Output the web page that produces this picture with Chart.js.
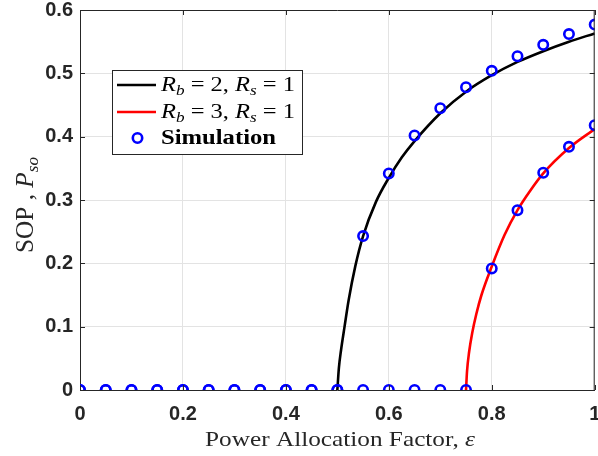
<!DOCTYPE html>
<html>
<head>
<meta charset="utf-8">
<script src="https://cdn.jsdelivr.net/npm/chart.js@4.4.1/dist/chart.umd.min.js"></script>
<style>
  html, body { margin: 0; padding: 0; background: #fff; overflow: hidden; }
  #wrap { width: 598px; height: 456px; overflow: hidden; position: relative; }
  canvas { display: block; }
</style>
</head>
<body>
<div id="wrap"><canvas id="sopChart" width="602" height="456" style="width:602px;height:456px"></canvas></div>
<script>
// simulation points (power allocation factor eps)
var eps = [0, 0.05, 0.1, 0.15, 0.2, 0.25, 0.3, 0.35, 0.4, 0.45, 0.5, 0.55, 0.6, 0.65, 0.7, 0.75, 0.8, 0.85, 0.9, 0.95, 1.0];
var simRb2 = [0, 0, 0, 0, 0, 0, 0, 0, 0, 0, 0, 0.243, 0.342, 0.402, 0.445, 0.478, 0.504, 0.527, 0.545, 0.562, 0.577];
var simRb3 = [0, 0, 0, 0, 0, 0, 0, 0, 0, 0, 0, 0, 0, 0, 0, 0, 0.192, 0.284, 0.343, 0.384, 0.418];

// analytical curves
var curveRb2Eps = [0.5, 0.503, 0.507, 0.514, 0.522, 0.535, 0.55, 0.575, 0.6, 0.625, 0.65, 0.7, 0.75, 0.8, 0.85, 0.9, 0.95, 1.0];
var curveRb2 = [0, 0.035, 0.062, 0.1, 0.142, 0.196, 0.243, 0.297, 0.335, 0.367, 0.393, 0.437, 0.471, 0.497, 0.518, 0.535, 0.55, 0.563];
var curveRb3Eps = [0.75, 0.752, 0.756, 0.762, 0.77, 0.78, 0.8, 0.825, 0.85, 0.875, 0.9, 0.95, 1.0];
var curveRb3 = [0, 0.03, 0.06, 0.09, 0.12, 0.15, 0.195, 0.245, 0.284, 0.315, 0.342, 0.382, 0.412];

var xTicks = [0, 0.2, 0.4, 0.6, 0.8, 1];
var yTicks = [0, 0.1, 0.2, 0.3, 0.4, 0.5, 0.6];

function pts(xs, ys) {
    return xs.map(function (x, i) { return { x: x, y: ys[i] }; });
}

var AXIS = '#262626';
var SERIF = '"Liberation Serif", "DejaVu Serif", serif';

// draw a run of text pieces, stretched to a target width
function drawRich(ctx, parts, x, y, targetW, sy) {
    var w = 0;
    parts.forEach(function (p) { ctx.font = p.f; w += ctx.measureText(p.t).width; });
    var sx = targetW ? targetW / w : 1;
    ctx.save();
    ctx.translate(x, y);
    ctx.scale(sx, sy || 1);
    ctx.textBaseline = 'alphabetic';
    ctx.textAlign = 'left';
    var cx = 0;
    parts.forEach(function (p) {
        ctx.font = p.f;
        ctx.fillStyle = p.c || '#000';
        ctx.fillText(p.t, cx, p.dy || 0);
        cx += ctx.measureText(p.t).width;
    });
    ctx.restore();
}

var it = function (s) { return 'italic ' + s + 'px ' + SERIF; };
var rm = function (s) { return s + 'px ' + SERIF; };

var decorations = {
    id: 'decorations',
    afterDraw: function (chart) {
        var ctx = chart.ctx, a = chart.chartArea;
        var xs = chart.scales.x, ys = chart.scales.y;
        ctx.save();
        // box and inward ticks
        ctx.strokeStyle = AXIS;
        ctx.lineWidth = 1;
        ctx.beginPath();
        ctx.moveTo(a.left, a.top + 0.5);
        ctx.lineTo(a.right, a.top + 0.5);
        ctx.moveTo(a.right - 0.5, a.top);
        ctx.lineTo(a.right - 0.5, a.bottom);
        xTicks.forEach(function (v) {
            var px = Math.round(xs.getPixelForValue(v)) + 0.5;
            ctx.moveTo(px, a.bottom); ctx.lineTo(px, a.bottom - 5);
            ctx.moveTo(px, a.top); ctx.lineTo(px, a.top + 5);
        });
        yTicks.forEach(function (v) {
            var py = Math.round(ys.getPixelForValue(v)) + 0.5;
            ctx.moveTo(a.left, py); ctx.lineTo(a.left + 5, py);
            ctx.moveTo(a.right, py); ctx.lineTo(a.right - 5, py);
        });
        ctx.stroke();

        // axis titles
        drawRich(ctx, [
            { t: 'Power Allocation Factor, ', f: rm(22), c: AXIS },
            { t: '\u03B5', f: it(22), c: AXIS }
        ], 205, 446, 270);

        ctx.save();
        ctx.translate(33, 253);
        ctx.rotate(-Math.PI / 2);
        drawRich(ctx, [
            { t: 'SOP , ', f: rm(22), c: AXIS },
            { t: 'P', f: it(22), c: AXIS },
            { t: 'so', f: it(15), dy: 4, c: AXIS }
        ], 0, 0, 96, 1.15);
        ctx.restore();

        // legend
        ctx.fillStyle = '#fff';
        ctx.fillRect(112, 70, 190, 84);
        ctx.strokeStyle = AXIS;
        ctx.lineWidth = 1;
        ctx.strokeRect(112.5, 70.5, 190, 84);

        ctx.lineWidth = 2.6;
        ctx.strokeStyle = '#000000';
        ctx.beginPath(); ctx.moveTo(117, 85); ctx.lineTo(156, 85); ctx.stroke();
        ctx.strokeStyle = '#ff0000';
        ctx.beginPath(); ctx.moveTo(117, 112); ctx.lineTo(156, 112); ctx.stroke();
        ctx.strokeStyle = '#0000ff';
        ctx.beginPath(); ctx.arc(137.5, 138, 4.7, 0, Math.PI * 2); ctx.stroke();

        [['2', 91], ['3', 117.5]].forEach(function (r) {
            drawRich(ctx, [
                { t: 'R', f: it(20) },
                { t: 'b', f: it(14), dy: 4 },
                { t: ' = ' + r[0] + ', ', f: rm(20) },
                { t: 'R', f: it(20) },
                { t: 's', f: it(14), dy: 4 },
                { t: ' = 1', f: rm(20) }
            ], 161, r[1], 134);
        });
        drawRich(ctx, [{ t: 'Simulation', f: 'bold 20px ' + SERIF }], 161, 144, 115);
        ctx.restore();
    }
};

var tickFont = { family: '"Liberation Sans", Arial, sans-serif', weight: 'bold', size: 20 };

var ctx = document.getElementById('sopChart').getContext('2d');
var sopChart = new Chart(ctx, {
    type: 'scatter',
    data: {
        datasets: [{
            label: 'Simulation',
            data: pts(eps, simRb2),
            borderColor: '#0000ff',
            backgroundColor: 'rgba(0,0,0,0)',
            pointRadius: 4.7,
            borderWidth: 2.6,
            showLine: false
        }, {
            label: 'Simulation Rb=3',
            data: pts(eps, simRb3),
            borderColor: '#0000ff',
            backgroundColor: 'rgba(0,0,0,0)',
            pointRadius: 4.7,
            borderWidth: 2.6,
            showLine: false
        }, {
            label: 'Rb = 2, Rs = 1',
            data: pts(curveRb2Eps, curveRb2),
            borderColor: '#000000',
            borderWidth: 2.6,
            pointRadius: 0,
            showLine: true,
            cubicInterpolationMode: 'monotone'
        }, {
            label: 'Rb = 3, Rs = 1',
            data: pts(curveRb3Eps, curveRb3),
            borderColor: '#ff0000',
            borderWidth: 2.6,
            pointRadius: 0,
            showLine: true,
            cubicInterpolationMode: 'monotone'
        }]
    },
    options: {
        responsive: false,
        devicePixelRatio: 1,
        animation: false,
        layout: { padding: { top: 10, left: 0, right: 2, bottom: 0 } },
        plugins: {
            legend: { display: false },
            tooltip: { enabled: false }
        },
        scales: {
            x: {
                type: 'linear',
                min: 0,
                max: 1,
                afterFit: function (s) { s.height = 66; s.paddingLeft = 0; s.paddingRight = 0; },
                afterBuildTicks: function (s) { s.ticks = xTicks.map(function (v) { return { value: v }; }); },
                ticks: {
                    font: tickFont,
                    color: AXIS,
                    padding: 12,
                    maxRotation: 0,
                    autoSkip: false,
                    callback: function (v) { return String(v); }
                },
                grid: { color: '#e3e3e3', lineWidth: 1, drawTicks: false },
                border: { display: true, color: AXIS, width: 1 }
            },
            y: {
                min: 0,
                max: 0.6,
                afterFit: function (s) { s.width = 80; s.paddingTop = 0; s.paddingBottom = 0; },
                afterBuildTicks: function (s) { s.ticks = yTicks.map(function (v) { return { value: v }; }); },
                ticks: {
                    font: tickFont,
                    color: AXIS,
                    padding: 7,
                    callback: function (v) { return String(v); }
                },
                grid: { color: '#e3e3e3', lineWidth: 1, drawTicks: false },
                border: { display: true, color: AXIS, width: 1 }
            }
        }
    },
    plugins: [decorations]
});
</script>
</body>
</html>
